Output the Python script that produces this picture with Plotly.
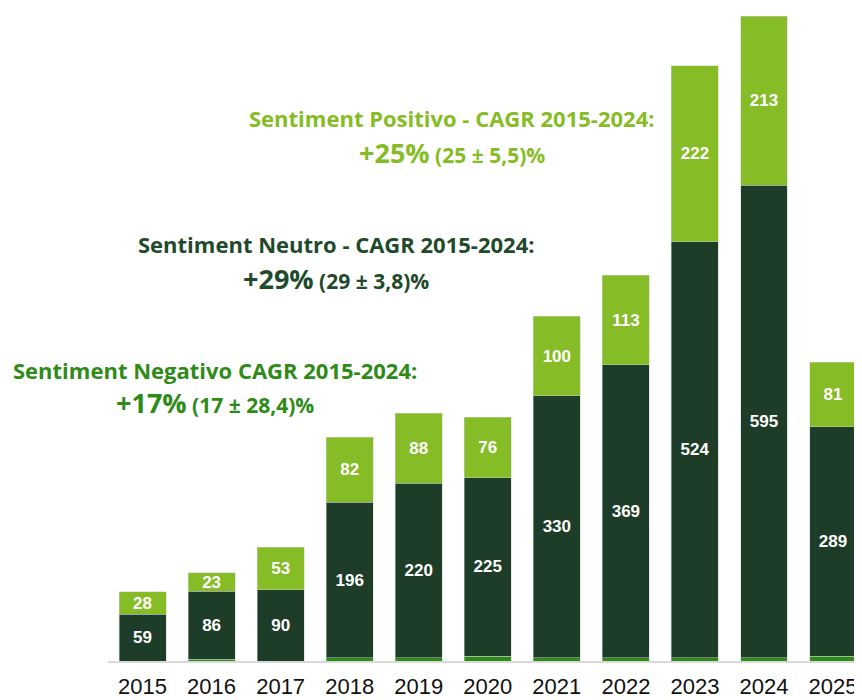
import plotly.graph_objects as go

years = ["2015", "2016", "2017", "2018", "2019", "2020", "2021", "2022", "2023", "2024", "2025"]
negativo = [0, 2, 0, 4, 4, 6, 4, 4, 4, 4, 6]
neutro = [59, 86, 90, 196, 220, 225, 330, 369, 524, 595, 289]
positivo = [28, 23, 53, 82, 88, 76, 100, 113, 222, 213, 81]

c_neg = "#2e8b17"
c_neu = "#1e3d28"
c_pos = "#86bc26"
c_neu_txt = "#1f4a2c"

fig = go.Figure()
line = dict(color="rgba(200,210,200,0.6)", width=0.8)
fig.add_bar(x=years, y=negativo, marker=dict(color=c_neg, line=line), name="Negativo",
            hoverinfo="skip")
fig.add_bar(x=years, y=neutro, marker=dict(color=c_neu, line=line), name="Neutro",
            text=[str(v) for v in neutro], textposition="inside", insidetextanchor="middle",
            constraintext="none", textangle=0,
            textfont=dict(color="white", size=17, family="Liberation Sans"), texttemplate="<b>%{text}</b>")
fig.add_bar(x=years, y=positivo, marker=dict(color=c_pos, line=line), name="Positivo",
            text=[str(v) for v in positivo], textposition="inside", insidetextanchor="middle",
            constraintext="none", textangle=0,
            textfont=dict(color="white", size=17, family="Liberation Sans"), texttemplate="<b>%{text}</b>")

# page body adds an 8px offset; coordinates below are in figure pixels
L, T, B = 100, 2, 47
fig.update_layout(
    barmode="stack", bargap=0.32, width=862, height=700,
    margin=dict(l=L, r=0, t=T, b=B, autoexpand=False),
    plot_bgcolor="white", paper_bgcolor="white", showlegend=False,
    font=dict(family="Open Sans"),
)
fig.update_xaxes(type="category", range=[-0.5, 10.535], showline=True, linecolor="#d9d9d9", linewidth=2,
                 tickfont=dict(family="Liberation Sans", size=22, color="#111111"), ticks="",
                 ticklabelstandoff=5, showgrid=False, automargin=False)
fig.update_yaxes(range=[0, 820], visible=False, showgrid=False)

W = 862 - L
H = 700 - T - B

def px(xp):
    return (xp - 8 - L) / W

def py(yp):
    return (700 - B - (yp - 8)) / H

def ann(text, x, y, color, size):
    fig.add_annotation(text=text, x=px(x), y=py(y), xref="paper", yref="paper", xanchor="center",
                       yanchor="middle", showarrow=False,
                       font=dict(color=color, size=size, family="Open Sans"), align="center")

ann("<b>Sentiment Positivo - CAGR 2015-2024:</b>", 452, 118, c_pos, 22)
ann("<b><span style='font-size:27px'>+25%</span> (25 ± 5,5)%</b>", 452, 152, c_pos, 21)
ann("<b>Sentiment Neutro - CAGR 2015-2024:</b>", 336, 244, c_neu_txt, 22)
ann("<b><span style='font-size:27px'>+29%</span> (29 ± 3,8)%</b>", 336, 279, c_neu_txt, 21)
ann("<b>Sentiment Negativo CAGR 2015-2024:</b>", 215, 370, c_neg, 22)
ann("<b><span style='font-size:27px'>+17%</span> (17 ± 28,4)%</b>", 215, 403, c_neg, 21)

fig.write_html("out.html")
